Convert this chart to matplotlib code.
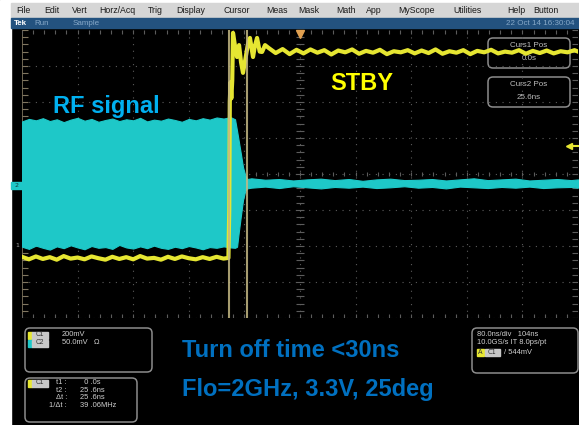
import numpy as np
import matplotlib.pyplot as plt
from matplotlib.patches import FancyBboxPatch, Rectangle

W, H = 579, 425

# scope setup: 80 ns/div over 10 div, vertical scale in divisions
t_min, t_max = 0, 800
div_min, div_max = -4, 4

menu_items = ["File", "Edit", "Vert", "Horz/Acq", "Trig", "Display", "Cursor", "Meas",
              "Mask", "Math", "App", "MyScope", "Utilities", "Help", "Button"]
menu_x = [16, 44, 72, 99, 148, 176, 224, 266, 298, 336, 366, 398, 453, 507, 533]

# CH2 - RF signal envelope (divisions)
t_rf = list(np.arange(0, 301, 10)) + [306.5, 309.4, 312.0, 315.0, 318.0, 321.0, 323.8] \
    + list(np.arange(330, 800, 20)) + [800]
rf_top = [1.46, 1.53, 1.49, 1.55, 1.47, 1.52, 1.44, 1.51, 1.56, 1.48,
          1.53, 1.45, 1.50, 1.54, 1.47, 1.52, 1.49, 1.56, 1.46, 1.51,
          1.48, 1.54, 1.50, 1.45, 1.53, 1.49, 1.55, 1.51, 1.57, 1.54, 1.58,
          1.52, 1.20, 0.90, 0.55, 0.19, -0.02, -0.14,
          -0.12, -0.16, -0.14, -0.18, -0.15, -0.13, -0.17, -0.14, -0.19, -0.15,
          -0.13, -0.17, -0.16, -0.14, -0.18, -0.15, -0.12, -0.17, -0.15, -0.13,
          -0.18, -0.16, -0.14, -0.17, -0.15]
rf_bot = [-2.02, -2.08, -1.99, -2.05, -2.10, -2.01, -2.06, -1.98, -2.04, -2.09,
          -2.00, -2.05, -2.03, -2.08, -1.97, -2.04, -2.07, -2.01, -2.06, -1.99,
          -2.05, -2.08, -2.02, -2.06, -2.00, -2.04, -2.09, -2.03, -2.05, -2.01, -2.04,
          -2.05, -2.02, -1.60, -1.15, -0.72, -0.48, -0.40,
          -0.38, -0.35, -0.39, -0.34, -0.37, -0.40, -0.36, -0.38, -0.35, -0.39,
          -0.37, -0.34, -0.38, -0.36, -0.40, -0.35, -0.37, -0.39, -0.36, -0.38,
          -0.35, -0.39, -0.37, -0.36, -0.38]

# CH1 - STBY control (divisions)
t_stby = list(np.arange(0, 291, 10)) + [297.0] \
    + [298.2, 299.0, 300.0, 301.2, 302.5, 303.6, 306.5, 309.4, 312.3, 315.2,
       318.0, 321.5, 325.0, 328.0, 332.4, 335.0, 338.2, 342.0, 345.4, 349.7] \
    + list(np.arange(355, 796, 10)) + [800]
v_stby = [-2.30, -2.37, -2.29, -2.36, -2.31, -2.38, -2.28, -2.35, -2.32, -2.37,
          -2.29, -2.34, -2.38, -2.30, -2.36, -2.31, -2.37, -2.28, -2.35, -2.33,
          -2.38, -2.30, -2.36, -2.29, -2.34, -2.37, -2.31, -2.36, -2.30, -2.35, -2.33,
          -1.00, 2.00, 2.55, 2.10, 2.60, 3.92, 3.55, 3.25, 3.58, 3.10,
          2.81, 3.20, 3.60, 3.78, 3.25, 3.55, 3.78, 3.40, 3.39, 3.58,
          3.50, 3.36, 3.47, 3.33, 3.45, 3.35, 3.46, 3.37, 3.44, 3.32,
          3.43, 3.38, 3.46, 3.34, 3.42, 3.37, 3.45, 3.33, 3.41, 3.38,
          3.44, 3.35, 3.43, 3.36, 3.46, 3.34, 3.41, 3.37, 3.44, 3.33,
          3.42, 3.38, 3.45, 3.35, 3.40, 3.37, 3.44, 3.34, 3.42, 3.36,
          3.43, 3.35, 3.41, 3.38, 3.44, 3.40]

curs1 = 297.9
curs2 = 323.5
trig_level = 0.78

cyan = '#1ec8c8'
yellow = '#e6e632'
grid_col = '#5c5c5c'
box_col = '#8c8c8c'
txt_col = '#d0d0d0'

fig = plt.figure(figsize=(W / 100, H / 100), dpi=100, facecolor='black')

# background layer in pixel coordinates
bg = fig.add_axes([0, 0, 1, 1], zorder=0)
bg.set_xlim(0, W)
bg.set_ylim(H, 0)
bg.axis('off')
bg.add_patch(Rectangle((0, 0), 11, H, color='white'))
bg.add_patch(Rectangle((11, 0), W, 3, color='white'))
bg.add_patch(Rectangle((11, 3), W, 15, color='#d6d6d6'))
bg.add_patch(Rectangle((11, 18), W, 10, color='#23527f'))
for name, x in zip(menu_items, menu_x):
    bg.text(x, 10.5, name, fontsize=6.3, color='#1a1a1a', va='center', family='Liberation Sans')
bg.text(14, 23, "Tek", fontsize=5.8, color='white', weight='bold', va='center', family='Liberation Sans')
bg.text(34, 23, "Run", fontsize=5.8, color='#86a8c8', va='center', family='Liberation Sans')
bg.text(73, 23, "Sample", fontsize=5.8, color='#86a8c8', va='center', family='Liberation Sans')
bg.text(575, 23, "22 Oct 14 16:30:04", fontsize=5.8, color='#86a8c8', va='center', ha='right',
        family='Liberation Sans')

# channel markers on the left strip
bg.add_patch(Rectangle((11, 181.5), 11, 7, color=cyan))
bg.text(16.5, 185, "2", fontsize=4.5, color='#104040', ha='center', va='center')
bg.text(17, 245, "1", fontsize=4.5, color='#a0a0a0', ha='center', va='center')


def rbox(axis, x0, y0, x1, y1, **kw):
    p = FancyBboxPatch((x0, y0), x1 - x0, y1 - y0, boxstyle="round,pad=0,rounding_size=5",
                       facecolor='black', edgecolor=box_col, linewidth=1.1, **kw)
    axis.add_patch(p)


def badge(axis, x, y, color, label):
    axis.add_patch(Rectangle((x, y - 3.5), 4, 7, color=color))
    axis.add_patch(Rectangle((x + 4, y - 3.5), 16, 7, color='#c8c8c8'))
    axis.text(x + 12, y, label, fontsize=4.8, color='#303030', ha='center', va='center',
              family='Liberation Sans')


# bottom readouts
small = dict(fontsize=5.4, color=txt_col, va='center', family='Liberation Sans')
rbox(bg, 25, 328, 152, 372)
badge(bg, 28, 335, yellow, "C1")
badge(bg, 28, 343, cyan, "C2")
bg.text(62, 335, "200mV", **small)
bg.text(62, 343, "50.0mV   \u03a9", **small)

rbox(bg, 25, 378, 137, 422)
badge(bg, 28, 383, yellow, "C1")
rows = [("t1 :", "  0 .0s"), ("t2 :", "25 .6ns"), ("\u0394t :", "25 .6ns"), ("1/\u0394t :", "39 .06MHz")]
for i, (lab, val) in enumerate(rows):
    yy = 383 + i * 7.4
    bg.text(67, yy, lab, ha='right', **small)
    bg.text(80, yy, val, **small)

rbox(bg, 472, 328, 578, 373)
bg.text(477, 335, "80.0ns/div   104ns", **small)
bg.text(477, 343, "10.0GS/s IT 8.0ps/pt", **small)
bg.add_patch(Rectangle((477, 348.5), 7, 7, color=yellow))
bg.text(480.5, 352, "A", fontsize=4.8, color='#303030', ha='center', va='center')
bg.add_patch(Rectangle((485, 348.5), 15, 7, color='#c8c8c8'))
bg.text(492.5, 352, "C1", fontsize=4.8, color='#303030', ha='center', va='center')
bg.text(504, 352, "/ 544mV", **small)

# graticule and traces
ax = fig.add_axes([22 / W, 1 - 318 / H, 556 / W, 288 / H], zorder=1)
ax.set_facecolor('none')
ax.set_xlim(t_min, t_max)
ax.set_ylim(div_min, div_max)
ax.set_xticks([])
ax.set_yticks([])
for s in ax.spines.values():
    s.set_visible(False)
ax.axvline(t_min, color='#807660', lw=1.2)

for t in np.arange(80, 800, 80):
    ax.axvline(t, color=grid_col, lw=0.8, ls=(0, (1, 5)))
for v in np.arange(-3, 4, 1):
    ax.axhline(v, color=grid_col, lw=0.8, ls=(0, (1, 5)))
ax.axhline(div_min, color=grid_col, lw=0.8, ls=(0, (1, 3)))

minor_t = np.arange(0, 801, 16)
minor_v = np.arange(-4, 4.01, 0.2)
ax.vlines(minor_t, -0.06, 0.06, color=grid_col, lw=0.8)
ax.hlines(minor_v, 394, 406, color=grid_col, lw=0.8)
ax.vlines(minor_t, 3.9, 4.0, color=grid_col, lw=0.8)
ax.vlines(minor_t, -4.0, -3.9, color=grid_col, lw=0.8)
ax.hlines(minor_v, 0, 8, color='#807660', lw=0.8)
ax.hlines(minor_v, 792, 800, color=grid_col, lw=0.8)

# cursor readout boxes (behind traces)
rbox(ax, 488, 38, 570, 68, transform=bg.transData, clip_on=False, zorder=1.5)
rbox(ax, 488, 77, 570, 107, transform=bg.transData, clip_on=False, zorder=1.5)
for yy, s in [(45, "Curs1 Pos"), (58, "0.0s"), (84, "Curs2 Pos"), (97, "25.6ns")]:
    ax.text(529, yy, s, fontsize=5.8, color='#c0c0c0', ha='center', va='center',
            transform=bg.transData, zorder=1.6, family='Liberation Sans')

ax.fill_between(t_rf, rf_bot, rf_top, color=cyan, lw=0.8, zorder=2)
ax.plot(t_stby, v_stby, color=yellow, lw=3.0, solid_joinstyle='round', zorder=3)
for c in (curs1, curs2):
    ax.axvline(c, color='#c4b884', lw=1.5, alpha=0.85, zorder=4)

ax.plot([t_max - 12, t_max], [trig_level, trig_level], color=yellow, lw=1.5, clip_on=False, zorder=5)
ax.plot([t_max - 13], [trig_level], marker='<', color=yellow, ms=4.5, clip_on=False, zorder=5)
ax.plot([400], [3.9], marker='v', color='#e0a050', ms=6, clip_on=False, zorder=5)

# annotation layer
top = fig.add_axes([0, 0, 1, 1], zorder=2)
top.set_xlim(0, W)
top.set_ylim(H, 0)
top.axis('off')
big = dict(fontsize=17, weight='bold', family='Liberation Sans', va='baseline')
top.text(53, 113, "RF signal", color='#00b0f0', **big)
top.text(330, 90, "STBY", color='#ffff00', **big)
top.text(182, 357, "Turn off time <30ns", color='#0070c0', **big)
top.text(182, 396, "Flo=2GHz, 3.3V, 25deg", color='#0070c0', **big)

fig.savefig('out.png', dpi=100, facecolor='black')
